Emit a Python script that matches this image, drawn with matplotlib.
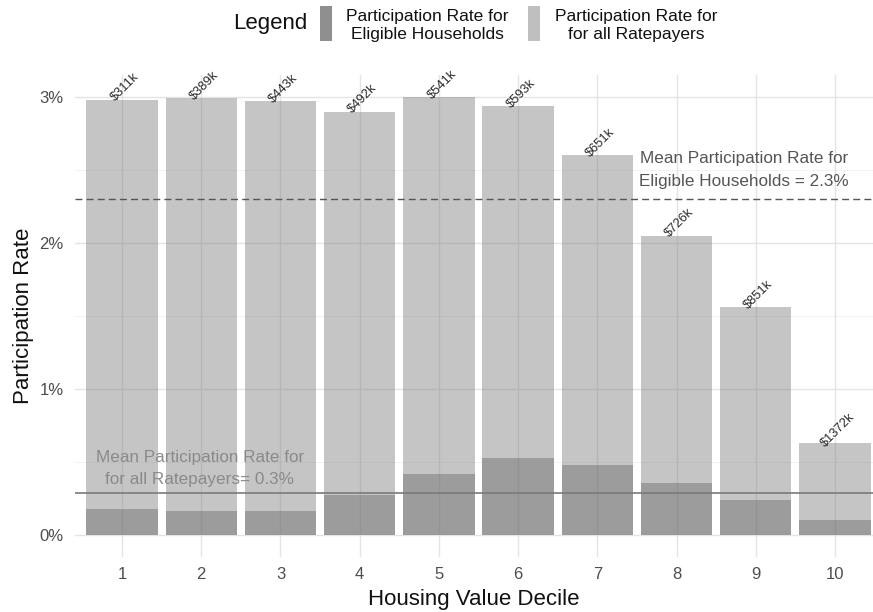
import matplotlib
matplotlib.use("Agg")
import matplotlib.pyplot as plt
from matplotlib.patches import Rectangle
import numpy as np

plt.rcParams['font.family'] = ['Liberation Sans', 'DejaVu Sans']

deciles = [1, 2, 3, 4, 5, 6, 7, 8, 9, 10]
rate_light = [2.98, 2.99, 2.97, 2.90, 3.00, 2.94, 2.60, 2.05, 1.56, 0.63]
rate_dark = [0.178, 0.167, 0.162, 0.274, 0.42, 0.53, 0.48, 0.36, 0.24, 0.10]
value_labels = ["$311k", "$389k", "$443k", "$492k", "$541k", "$593k",
                "$651k", "$726k", "$851k", "$1372k"]
mean_eligible = 2.3
mean_all = 0.29
y_ticks = [0, 1, 2, 3]
y_tick_labels = ["0%", "1%", "2%", "3%"]

W, H = 873, 612
fig = plt.figure(figsize=(W / 100, H / 100), dpi=100)
ax = fig.add_axes([74.5 / W, (H - 557) / H, (W - 74.5) / W, 482 / H])

ax.set_xlim(0.4, 10.48)
ax.set_ylim(-0.15, 3.15)

# grid
for y in [0.5, 1.5, 2.5]:
    ax.axhline(y, color="#f0f0f0", lw=0.6, zorder=0)
for y in y_ticks:
    ax.axhline(y, color="#e4e4e4", lw=1.0, zorder=0)
for x in deciles:
    ax.axvline(x, color="#e4e4e4", lw=1.0, zorder=0)

ax.bar(deciles, rate_light, width=0.9, color="#7f7f7f", alpha=0.45, lw=0, zorder=1)
ax.bar(deciles, rate_dark, width=0.9, color="#5a5a5a", alpha=0.38, lw=0, zorder=2)

for x, y, lab in zip(deciles, rate_light, value_labels):
    ax.text(x + 0.04, y + 0.085, lab, rotation=45, ha="center", va="center",
            fontsize=9.3, color="#2a2a2a", zorder=5)

ax.axhline(mean_eligible, color="#555555", lw=1.0, ls=(0, (5, 3)), zorder=3)
ax.axhline(mean_all, color="#7a7a7a", lw=1.2, zorder=3)

ax.text(8.85, 2.5, "Mean Participation Rate for\nEligible Households = 2.3%",
        ha="center", va="center", fontsize=12.3, color="#555555",
        linespacing=1.6, zorder=5)
ax.text(1.98, 0.455, "Mean Participation Rate for\nfor all Ratepayers= 0.3%",
        ha="center", va="center", fontsize=12.3, color="#8a8a8a",
        linespacing=1.6, zorder=5)

ax.set_xticks(deciles)
ax.set_xticklabels([str(d) for d in deciles])
ax.set_yticks(y_ticks)
ax.set_yticklabels(y_tick_labels)
ax.tick_params(axis="x", length=0, labelsize=12, labelcolor="#4d4d4d", pad=7)
ax.tick_params(axis="y", length=0, labelsize=12, labelcolor="#4d4d4d", pad=8)
for s in ax.spines.values():
    s.set_visible(False)

ax.set_xlabel("Housing Value Decile", fontsize=16, color="#111111", labelpad=5)
ax.set_ylabel("Participation Rate", fontsize=16, color="#111111", labelpad=4)

# legend (top)
fig.text(270 / W, 1 - 23 / H, "Legend", fontsize=16, ha="center", va="center", color="#111111")
fig.patches.append(Rectangle((320 / W, 1 - 41 / H), 12 / W, 35 / H,
                             transform=fig.transFigure, color="#8f8f8f", lw=0))
fig.patches.append(Rectangle((528 / W, 1 - 41 / H), 12 / W, 35 / H,
                             transform=fig.transFigure, color="#bfbfbf", lw=0))
fig.text(427 / W, 1 - 26 / H, "Participation Rate for\nEligible Households",
         fontsize=12.5, ha="center", va="center", color="#111111", linespacing=1.25)
fig.text(636 / W, 1 - 26 / H, "Participation Rate for\nfor all Ratepayers",
         fontsize=12.5, ha="center", va="center", color="#111111", linespacing=1.25)

fig.savefig("out.png", dpi=100, facecolor="white")
